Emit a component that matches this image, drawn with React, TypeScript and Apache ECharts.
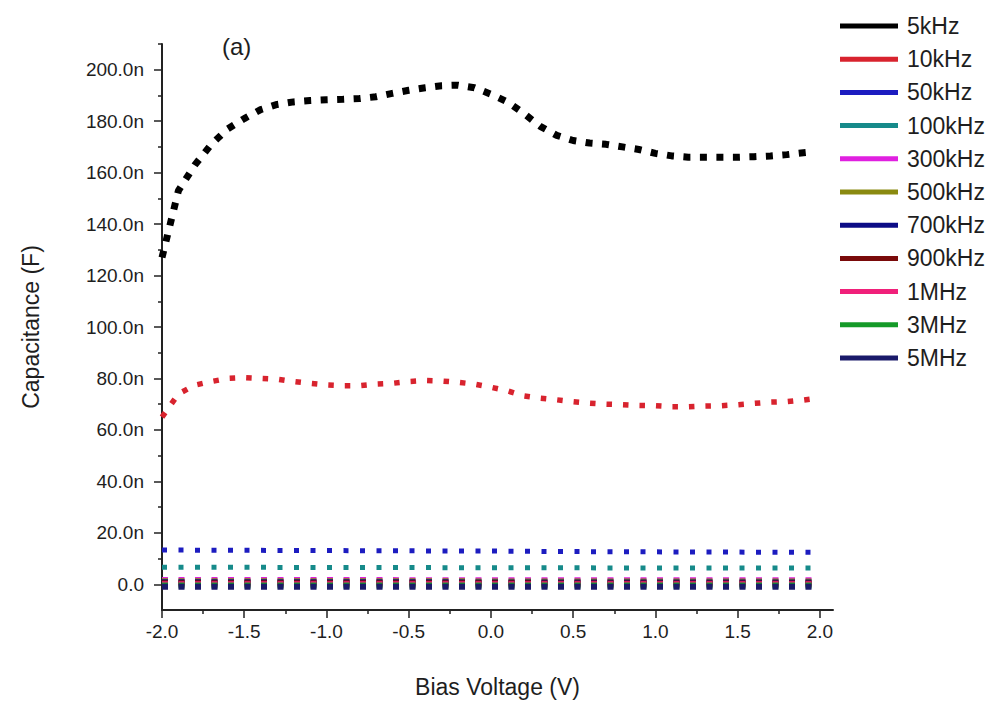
import React, { useEffect, useRef } from "react";
import * as echarts from "echarts";

const bias = [
  -2.0, -1.9, -1.8, -1.7, -1.6, -1.5, -1.4, -1.3, -1.2, -1.1, -1.0, -0.9, -0.8, -0.7,
  -0.6, -0.5, -0.4, -0.3, -0.2, -0.1, 0.0, 0.1, 0.2, 0.3, 0.4, 0.5, 0.6, 0.7, 0.8, 0.9,
  1.0, 1.1, 1.2, 1.3, 1.4, 1.5, 1.6, 1.7, 1.8, 1.9, 1.95,
];

// capacitance in nF
const c5kHz = [
  127, 153, 163, 171, 177, 181, 184.5, 186.5, 187.5, 188, 188.3, 188.5, 188.8, 189.5,
  190.8, 192, 193, 193.8, 194, 193, 190.5, 187.5, 183, 178, 174.5, 172.5, 171.5, 171,
  170, 169, 167.5, 166.5, 166, 166, 166, 166, 166.2, 166.5, 167, 167.7, 168,
];
const c10kHz = [
  65, 74, 77.4, 78.8, 80, 80.3, 80, 79.7, 78.8, 78.1, 77.5, 77.2, 77.2, 77.8, 78.1,
  78.8, 79.2, 79, 78.5, 77.8, 76.6, 75.2, 73.2, 72.3, 71.7, 71, 70.4, 70, 69.8, 69.5,
  69.4, 69, 69, 69.3, 69.4, 69.8, 70.3, 70.8, 71, 71.6, 72,
];

const biasLow = [-2.0, -1.5, -1.0, -0.5, 0.0, 0.5, 1.0, 1.5, 1.95];
const c50kHz = [13.3, 13.2, 13.1, 13.0, 12.9, 12.7, 12.6, 12.5, 12.4];
const c100kHz = [6.6, 6.6, 6.5, 6.5, 6.4, 6.4, 6.3, 6.3, 6.3];
const c300kHz = [1.7, 1.7, 1.7, 1.6, 1.6, 1.6, 1.6, 1.6, 1.6];
const c500kHz = [1.2, 1.2, 1.2, 1.2, 1.1, 1.1, 1.1, 1.1, 1.1];
const c700kHz = [0.8, 0.8, 0.8, 0.8, 0.7, 0.7, 0.7, 0.7, 0.7];
const c900kHz = [0.4, 0.4, 0.4, 0.4, 0.4, 0.3, 0.3, 0.3, 0.3];
const c1MHz = [0.0, 0.0, 0.0, 0.0, 0.0, 0.0, 0.0, 0.0, 0.0];
const c3MHz = [-0.5, -0.5, -0.5, -0.5, -0.5, -0.5, -0.5, -0.5, -0.5];
const c5MHz = [-1.0, -1.0, -1.0, -1.0, -1.0, -1.0, -1.0, -1.0, -1.0];

const legendNames = ["5kHz", "10kHz", "50kHz", "100kHz", "300kHz", "500kHz", "700kHz", "900kHz", "1MHz", "3MHz", "5MHz"];
const colors = ["#000000", "#d8232e", "#1c1cc0", "#168a8a", "#e020e0", "#8a8a10", "#0c0c86", "#7a0a0a", "#f0207a", "#149a28", "#1a1a6a"];

const xMajor = [-2.0, -1.5, -1.0, -0.5, 0.0, 0.5, 1.0, 1.5, 2.0];
const xMinor = [-1.75, -1.25, -0.75, -0.25, 0.25, 0.75, 1.25, 1.75];
const yMajor = [0, 20, 40, 60, 80, 100, 120, 140, 160, 180, 200];
const yMinor = [10, 30, 50, 70, 90, 110, 130, 150, 170, 190, 210];

const FONT = "'Liberation Sans', Arial, sans-serif";
const TXT = "#1e1e1e";

export default function App() {
  const ref = useRef<HTMLDivElement>(null);
  useEffect(() => {
    const chart = echarts.init(ref.current!, null, { renderer: "svg" });
    const allData = [
      { x: bias, y: c5kHz },
      { x: bias, y: c10kHz },
      { x: biasLow, y: c50kHz },
      { x: biasLow, y: c100kHz },
      { x: biasLow, y: c300kHz },
      { x: biasLow, y: c500kHz },
      { x: biasLow, y: c700kHz },
      { x: biasLow, y: c900kHz },
      { x: biasLow, y: c1MHz },
      { x: biasLow, y: c3MHz },
      { x: biasLow, y: c5MHz },
    ];
    const series = allData.map((d, i) => {
      const w = i === 0 ? 7 : i === 1 ? 5.5 : i < 4 ? 5 : 6;
      return {
        name: legendNames[i],
        type: "line",
        xAxisIndex: 0,
        yAxisIndex: 0,
        showSymbol: false,
        symbol: "none",
        color: colors[i],
        data: d.x.map((x, k) => [x, d.y[k]]),
        lineStyle: { color: colors[i], width: w, type: [w, 16.5 - w], cap: "butt" },
        z: 2 + i,
      };
    });
    const option: any = {
      animation: false,
      backgroundColor: "#ffffff",
      textStyle: { fontFamily: FONT },
      title: {
        text: "(a)",
        left: 217,
        top: 29,
        textStyle: { fontSize: 24, fontWeight: "normal", color: TXT, fontFamily: FONT },
      },
      grid: { left: 162, right: 167, top: 44, bottom: 90, containLabel: false },
      legend: {
        orient: "vertical",
        left: 835,
        top: 9,
        icon: "rect",
        itemWidth: 58,
        itemHeight: 5,
        itemGap: 9.2,
        itemStyle: { borderWidth: 0 },
        textStyle: { fontSize: 23, color: TXT, fontFamily: FONT, lineHeight: 24, padding: [0, 0, 0, 4] },
        data: legendNames,
      },
      xAxis: [
        {
          type: "value",
          min: -2.0,
          max: 2.08,
          position: "bottom",
          axisLine: { show: true, onZero: false, lineStyle: { color: "#222", width: 2 } },
          axisTick: { show: true, inside: false, length: 8, customValues: xMajor, lineStyle: { color: "#222", width: 1.5 } },
          axisLabel: {
            customValues: xMajor,
            margin: 12,
            fontSize: 19,
            color: TXT,
            fontFamily: FONT,
            formatter: (v: number) => v.toFixed(1),
          },
          splitLine: { show: false },
          name: "Bias Voltage (V)",
          nameLocation: "middle",
          nameGap: 65,
          nameTextStyle: { fontSize: 23, color: TXT, fontFamily: FONT },
        },
        {
          type: "value",
          min: -2.0,
          max: 2.08,
          position: "bottom",
          offset: 0,
          axisLine: { show: false, onZero: false },
          axisTick: { show: true, inside: false, length: 4, customValues: xMinor, lineStyle: { color: "#222", width: 1.5 } },
          axisLabel: { show: false },
          splitLine: { show: false },
        },
      ],
      yAxis: [
        {
          type: "value",
          min: -10,
          max: 210,
          position: "left",
          axisLine: { show: true, onZero: false, lineStyle: { color: "#222", width: 2 } },
          axisTick: { show: true, inside: false, length: 8, customValues: yMajor, lineStyle: { color: "#222", width: 1.5 } },
          axisLabel: {
            customValues: yMajor,
            margin: 18,
            fontSize: 19,
            color: TXT,
            fontFamily: FONT,
            formatter: (v: number) => (v === 0 ? "0.0" : v.toFixed(1) + "n"),
          },
          splitLine: { show: false },
          name: "Capacitance (F)",
          nameLocation: "middle",
          nameGap: 120,
          nameTextStyle: { fontSize: 23, color: TXT, fontFamily: FONT },
        },
        {
          type: "value",
          min: -10,
          max: 210,
          position: "left",
          offset: 0,
          axisLine: { show: false, onZero: false },
          axisTick: { show: true, inside: false, length: 4, customValues: yMinor, lineStyle: { color: "#222", width: 1.5 } },
          axisLabel: { show: false },
          splitLine: { show: false },
        },
      ],
      series,
    };
    chart.setOption(option);
    return () => chart.dispose();
  }, []);
  return (
    <div
      ref={ref}
      style={{ position: "absolute", left: 0, top: 0, width: 1000, height: 703, background: "#fff" }}
    />
  );
}
